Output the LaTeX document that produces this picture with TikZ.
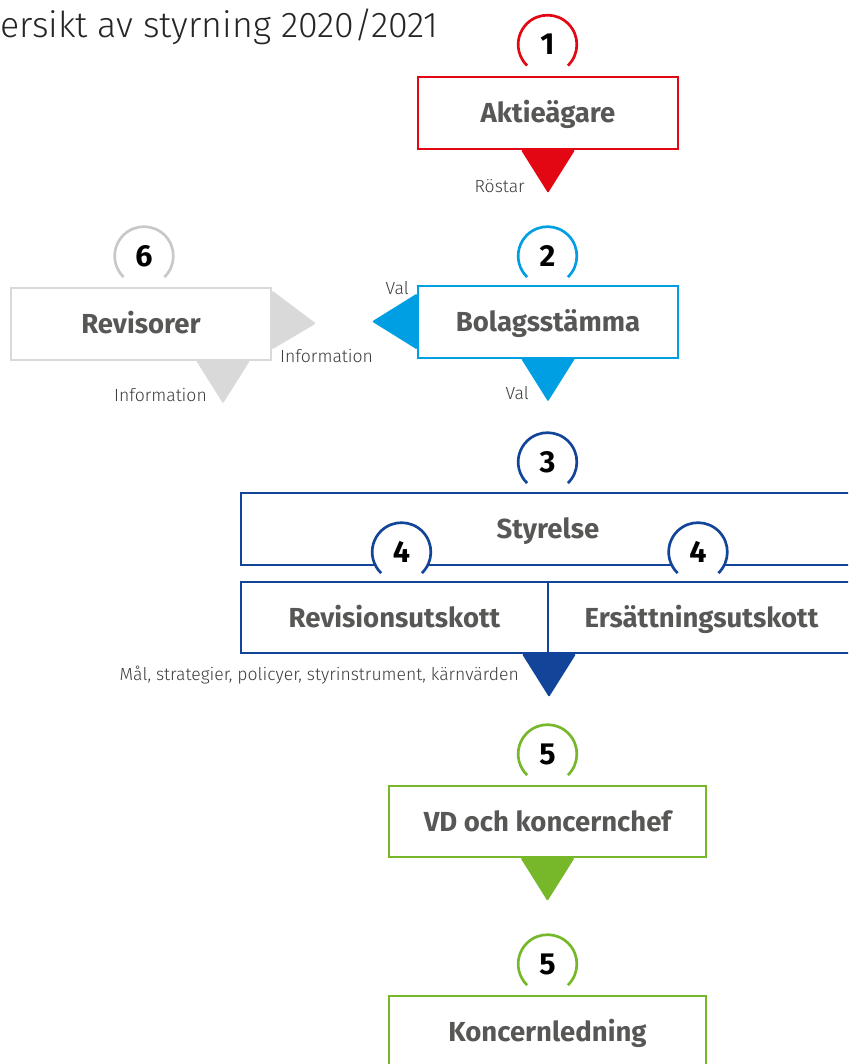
\documentclass[tikz,border=0pt]{standalone}
\usepackage{fontspec}
\setmainfont{Fira Sans}
\newfontfamily\lightfont{Fira Sans Light}
\usetikzlibrary{calc}

\definecolor{aktred}{HTML}{E30613}
\definecolor{stamcyan}{HTML}{009FE3}
\definecolor{revgray}{HTML}{D9D9D9}
\definecolor{numgray}{HTML}{C8C8C8}
\definecolor{styrnavy}{HTML}{12449A}
\definecolor{ledgreen}{HTML}{76B82A}
\definecolor{boxtext}{HTML}{575756}
\definecolor{labeltext}{HTML}{3C3C3C}

\tikzset{
  box/.style={draw=#1, line width=0.6mm, fill=white, text=boxtext,
    font=\fontsize{23.5}{28}\selectfont\bfseries, inner sep=0pt,
    text height=16.5pt, text depth=0pt, minimum height=21.6mm},
  num/.style={font=\fontsize{26}{30}\selectfont\bfseries, text=black, inner sep=0pt},
  lbl/.style={font=\fontsize{15}{18}\selectfont\lightfont, text=labeltext, inner sep=0pt},
}

% number in a ring with a gap at the bottom
\newcommand{\numring}[4]{%
  \fill[white] #2 circle (8.5mm);
  \draw[#3, line width=0.8mm] ($#2+(-46:8.8mm)$) arc[start angle=-46, end angle=226, radius=8.8mm];
  \node[num] (#1) at #2 {#4};}
% tip pointing down from a point on a box edge
\newcommand{\downtip}[2]{%
  \fill[#2, rounded corners=1pt] ($#1+(-27,0)$) -- ($#1+(27,0)$) -- ($#1+(0,-43)$) -- cycle;}

\begin{document}
\begin{tikzpicture}[x=0.3mm, y=0.3mm]
  \useasboundingbox (0,0) rectangle (848,-1064);
  \clip (0,0) rectangle (848,-1064);

  \node[anchor=base west, inner sep=0pt, text=black!85,
    font=\fontsize{30.5}{36}\selectfont\lightfont] (title) at (0,-38) {ersikt av styrning 2020/2021};

  % boxes
  \node[box=aktred, minimum width=78mm] (akt) at (548,-113) {Aktieägare};
  \node[box=stamcyan, minimum width=78mm] (bs) at (548,-321.5) {Bolagsstämma};
  \node[box=revgray, minimum width=78mm] (rev) at (141,-323.5) {Revisorer};
  \node[box=styrnavy, minimum width=184.2mm] (styr) at (548,-529) {Styrelse};
  \node[box=styrnavy, minimum width=92.1mm, minimum height=21.3mm] (rk) at (394.5,-617.5) {Revisionsutskott};
  \node[box=styrnavy, minimum width=92.1mm, minimum height=21.3mm] (ek) at (701.5,-617.5) {Ersättningsutskott};
  \node[box=ledgreen, minimum width=95.1mm, minimum height=21.3mm] (vd) at (547.5,-821.5) {VD och koncernchef};
  \node[box=ledgreen, minimum width=95.1mm, minimum height=21.3mm] (kl) at (547.5,-1031.5) {Koncernledning};

  % numbers
  \numring{n1}{(547.5,-44.5)}{aktred}{1}
  \numring{n2}{(547.5,-256)}{stamcyan}{2}
  \numring{n6}{(144,-256)}{numgray}{6}
  \numring{n3}{(547.5,-462)}{styrnavy}{3}
  \numring{n4a}{(401.5,-552)}{styrnavy}{4}
  \numring{n4b}{(698,-552)}{styrnavy}{4}
  \numring{n5a}{(547.5,-754)}{ledgreen}{5}
  \numring{n5b}{(547.5,-964)}{ledgreen}{5}

  % tips
  \downtip{(akt.south)}{aktred}
  \downtip{(bs.south)}{stamcyan}
  \downtip{(rk.south east)}{styrnavy}
  \downtip{(vd.south)}{ledgreen}
  \downtip{($(rev.south)+(82,0)$)}{revgray}
  \fill[stamcyan, rounded corners=1pt] ($(bs.west)+(0,28)$) -- ($(bs.west)+(-45,0)$) -- ($(bs.west)+(0,-28)$) -- cycle;
  \fill[revgray, rounded corners=1pt] ($(rev.east)+(0,33)$) -- ($(rev.east)+(44,0)$) -- ($(rev.east)+(0,-26)$) -- cycle;

  % labels
  \node[lbl, anchor=east] (rostar) at (525,-186) {Röstar};
  \node[lbl, anchor=east] (val1) at (409,-288) {Val};
  \node[lbl, anchor=east] (val2) at (529,-393) {Val};
  \node[lbl, anchor=west] (info1) at (280,-356) {Information};
  \node[lbl, anchor=east] (info2) at (207,-395) {Information};
  \node[lbl, anchor=east] (mal) at (519,-675) {Mål, strategier, policyer, styrinstrument, kärnvärden};
\end{tikzpicture}
\end{document}
